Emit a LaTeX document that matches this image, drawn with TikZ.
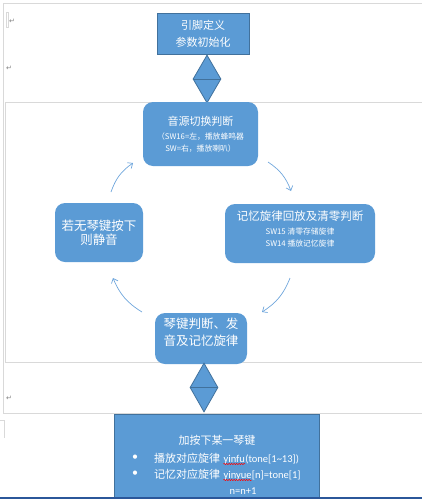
\documentclass[tikz,border=0pt]{standalone}
\usepackage{fontspec}
\setmainfont{Carlito}
\newfontfamily\cjk{Noto Sans CJK SC}
\newfontfamily\dvs{DejaVu Sans}
\usetikzlibrary{shapes.geometric,arrows.meta,decorations.pathmorphing}
\definecolor{boxblue}{HTML}{5B9BD5}
\definecolor{boxline}{HTML}{41719C}
\definecolor{arrowblue}{HTML}{6FA6DC}
\definecolor{framegray}{HTML}{D9D9D9}
\definecolor{markgray}{HTML}{808080}
\definecolor{barblue}{HTML}{2B579A}
\tikzset{
  sqbox/.style={draw=boxline, fill=boxblue, line width=0.8pt, text=white, align=center, inner sep=0pt},
  rbox/.style={fill=boxblue, rounded corners=10pt, text=white, align=center, inner sep=0pt},
  dia/.style={diamond, draw=boxline, fill=boxblue, line width=0.8pt, inner sep=0pt, minimum width=28pt, minimum height=48pt},
  cyc/.style={draw=arrowblue, line width=0.7pt, -{Straight Barb[length=4pt,width=7pt]}, bend left=18},
  framel/.style={draw=framegray, line width=0.8pt},
  retmark/.style={text=markgray, font=\dvs\fontsize{7}{8}\selectfont, inner sep=0pt},
  wtext/.style={text=white, inner sep=0pt},
  cn/.style={font=\cjk\fontsize{11}{13}\selectfont},
  lat/.style={font=\fontsize{10.5}{13}\selectfont},
  spell/.style={draw=red, line width=0.5pt, decorate, decoration={snake, amplitude=0.6pt, segment length=2.5pt}},
}
\begin{document}
\begin{tikzpicture}[x=1pt,y=1pt]
\useasboundingbox (0,0) rectangle (422,-499);
% page frame lines
\draw[framel] (422,-3) -- (3,-3) -- (3,-413) -- (422,-413);
\draw[framel] (422,-102) -- (5,-102) -- (5,-362) -- (422,-362);
\draw[framel] (0,-420) -- (4,-420) -- (4,-438);
\draw[framel] (6,-12) rectangle (8,-27);
\node[retmark] (r1) at (12,-21) {↵};
\node[retmark] (r2) at (9,-68) {↵};
\node[retmark] (r3) at (9,-398) {↵};
% top box
\node[sqbox, minimum width=92pt, minimum height=41pt, font=\cjk\fontsize{11}{17}\selectfont] (init) at (203,-33.5) {引脚定义\\参数初始化};
% diamond 1
\node[dia] (d1) at (207,-79) {};
\draw[boxline, line width=0.8pt] (d1.west) -- (d1.east);
% cycle nodes
\node[rbox, minimum width=115pt, minimum height=64pt] (src) at (200.5,-134)
  {\cjk\fontsize{11}{14}\selectfont 音源切换判断\\[2pt]
   \cjk\fontsize{7.8}{12}\selectfont （SW16=左，播放蜂鸣器\\
   \cjk\fontsize{7.8}{12}\selectfont SW=右，播放喇叭）};
\node[rbox, minimum width=150pt, minimum height=59pt] (mem) at (300,-233.5)
  {\cjk\fontsize{11.5}{15}\selectfont 记忆旋律回放及清零判断\\[2pt]
   \cjk\fontsize{7.8}{14}\selectfont SW15 清零存储旋律\\
   \cjk\fontsize{7.8}{14}\selectfont SW14 播放记忆旋律\\[-2pt]};
\node[rbox, minimum width=88pt, minimum height=59pt, font=\cjk\fontsize{12.5}{14.5}\selectfont] (mute) at (99,-232.5) {若无琴键按下\\则静音};
\node[rbox, minimum width=92pt, minimum height=51pt, font=\cjk\fontsize{12.5}{17}\selectfont] (key) at (201,-338.5) {琴键判断、发\\音及记忆旋律\\[-4pt]};
% cycle arrows
\coordinate (a1s) at (111,-192); \coordinate (a1e) at (133,-163);
\coordinate (a2s) at (268,-162); \coordinate (a2e) at (291,-191);
\coordinate (a3s) at (290,-278); \coordinate (a3e) at (262,-312);
\coordinate (a4s) at (142,-312); \coordinate (a4e) at (113,-278);
\draw[cyc] (a1s) to (a1e);
\draw[cyc] (a2s) to (a2e);
\draw[cyc] (a3s) to (a3e);
\draw[cyc] (a4s) to (a4e);
% diamond 2
\node[dia, minimum height=49pt] (d2) at (204,-387.5) {};
\draw[boxline, line width=0.8pt] (d2.west) -- (d2.east);
% bottom box
\node[sqbox, minimum width=205pt, minimum height=84pt] (play) at (216.5,-456) {};
\node[wtext, cn] (t1) at (217,-440) {加按下某一琴键};
\node[wtext, font=\fontsize{12}{13}\selectfont] (bu1) at (135,-457.5) {\textbullet};
\node[wtext, font=\fontsize{12}{13}\selectfont] (bu2) at (135,-473.5) {\textbullet};
\node[wtext, cn, anchor=base west] (t2a) at (154,-462) {播放对应旋律};
\node[wtext, lat, anchor=base west] (t2b) at ([xshift=3pt]t2a.base east) {yinfu};
\node[wtext, lat, anchor=base west] (t2c) at (t2b.base east) {(tone[1\textasciitilde 13])};
\draw[spell] ([yshift=-2pt]t2b.base west) -- ([yshift=-2pt]t2b.base east);
\node[wtext, cn, anchor=base west] (t3a) at (154,-478) {记忆对应旋律};
\node[wtext, lat, anchor=base west] (t3b) at ([xshift=3pt]t3a.base east) {yinyue};
\node[wtext, lat, anchor=base west] (t3c) at (t3b.base east) {[n]=tone[1]};
\draw[spell] ([yshift=-2pt]t3b.base west) -- ([yshift=-2pt]t3b.base east);
\node[wtext, lat] (t4) at (243,-491) {n=n+1};
% status bar line
\draw[barblue, line width=2pt] (0,-498) -- (422,-498);
\end{tikzpicture}
\end{document}
